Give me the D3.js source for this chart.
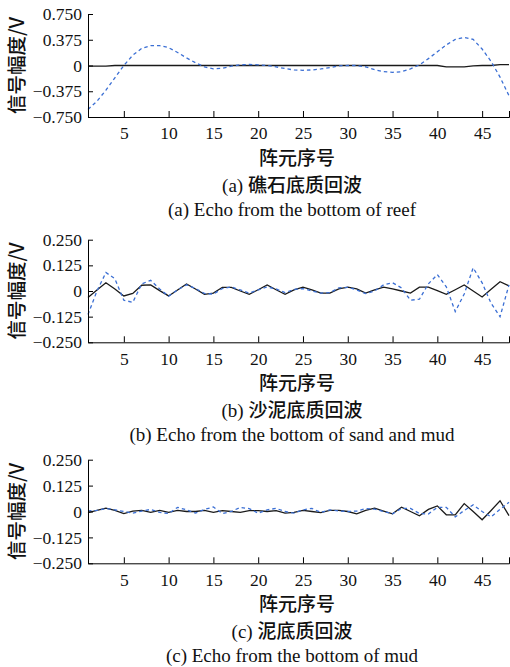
<!DOCTYPE html>
<html><head><meta charset="utf-8">
<script src="https://cdn.jsdelivr.net/npm/d3@7"></script>
<style>body{margin:0;background:#fff}</style>
</head><body>
<script>
// ---------- data ----------
const elements = [1,2,3,4,5,6,7,8,9,10,11,12,13,14,15,16,17,18,19,20,21,22,23,24,25,26,27,28,29,30,31,32,33,34,35,36,37,38,39,40,41,42,43,44,45,46,47,48];

const reefDashed = [-0.64,-0.52,-0.36,-0.18,0.0,0.15,0.25,0.29,0.29,0.26,0.19,0.11,0.04,-0.02,-0.05,-0.04,-0.01,0.01,0.015,0.01,0.0,-0.02,-0.045,-0.065,-0.07,-0.065,-0.05,-0.03,-0.005,0.0,0.0,-0.02,-0.06,-0.09,-0.10,-0.09,-0.05,0.01,0.10,0.20,0.30,0.38,0.41,0.38,0.24,0.06,-0.17,-0.44];
const reefSolid = [-0.008,-0.008,-0.008,0,0,0,0,0,0,0,0,0,0,0,0,0,0,0,0,0,0,0,0,0,0,0,0,0,0,0,0,0,0,0,0,0,0,0,0,0,-0.02,-0.02,-0.02,-0.004,0,0,0.012,0.012];

const sandDashed = [-0.115,0.0,0.09,0.06,-0.045,-0.055,0.035,0.052,0.01,-0.025,0.005,0.03,0.012,-0.012,-0.015,0.012,0.02,0.005,-0.01,0.005,0.02,0.01,-0.008,0.008,0.012,0.0,-0.01,-0.008,0.015,0.018,0.005,-0.013,0.0,0.03,0.04,0.015,-0.045,-0.04,0.035,0.08,0.02,-0.1,-0.015,0.113,0.04,-0.06,-0.125,0.03];
const sandSolid = [-0.032,0.005,0.04,0.01,-0.024,-0.012,0.028,0.03,0.002,-0.024,0.005,0.034,0.01,-0.016,-0.01,0.018,0.018,0.0,-0.016,0.006,0.029,0.006,-0.016,0.005,0.019,0.005,-0.01,-0.01,0.01,0.019,0.01,-0.01,0.005,0.019,0.01,0.0,-0.01,0.019,0.019,0.002,-0.016,0.006,0.029,0.0,-0.029,0.008,0.045,0.025];

const mudDashed = [0.003,0.005,0.015,0.008,0.0,-0.008,0.002,0.01,-0.004,-0.01,0.02,0.008,-0.008,0.01,0.022,-0.01,0.0,0.02,0.014,-0.008,0.008,0.015,0.0,-0.008,0.008,0.015,-0.005,0.008,0.003,0.0,0.002,0.014,0.011,0.0,-0.011,0.015,0.015,-0.01,-0.012,0.02,0.02,-0.026,0.005,0.032,0.0,-0.026,0.01,0.045];
const mudSolid = [-0.005,0.005,0.016,0.005,-0.01,0.002,0.005,-0.004,0.005,-0.004,0.005,0.0,0.0,0.005,-0.004,0.004,0.0,-0.004,0.004,0.004,0.0,0.004,-0.008,-0.004,0.005,0.0,-0.005,0.005,0.005,0.0,-0.011,0.005,0.016,0.002,-0.011,0.021,0.0,-0.021,0.01,0.027,-0.016,-0.016,0.038,0.0,-0.04,0.005,0.052,-0.02];

const xTicks = [5,10,15,20,25,30,35,40,45];
const yTicksReef = [-0.75,-0.375,0,0.375,0.75];
const yTickLabelsReef = ["\u22120.750","\u22120.375","0","0.375","0.750"];
const yTicksSmall = [-0.25,-0.125,0,0.125,0.25];
const yTickLabelsSmall = ["\u22120.250","\u22120.125","0","0.125","0.250"];

const yTitle = "信号幅度/V";
const xTitle = "阵元序号";
const captionLetters = ["(a)","(b)","(c)"];
const captionsZh = ["礁石底质回波","沙泥底质回波","泥底质回波"];
const captionsEn = ["(a) Echo from the bottom of reef","(b) Echo from the bottom of sand and mud","(c) Echo from the bottom of mud"];

// ---------- layout ----------
const W = 510, H = 667;
const left = 88, right = 509;
const panels = [
  {top:14,    bottom:117,   dom:[-0.75,0.75], ticks:yTicksReef,  labels:yTickLabelsReef,  dashed:reefDashed, solid:reefSolid},
  {top:239.7, bottom:342.3, dom:[-0.25,0.25], ticks:yTicksSmall, labels:yTickLabelsSmall, dashed:sandDashed, solid:sandSolid},
  {top:459.7, bottom:563.3, dom:[-0.25,0.25], ticks:yTicksSmall, labels:yTickLabelsSmall, dashed:mudDashed,  solid:mudSolid}
];

const serif = "'Liberation Serif','Times New Roman',serif";
const cjk = "'Noto Sans CJK SC','Noto Sans',sans-serif";

const svg = d3.select("body").append("svg").attr("width",W).attr("height",H)
  .style("background","#fff");

const x = d3.scaleLinear().domain([1,48]).range([left,right]);

panels.forEach((p,i)=>{
  const y = d3.scaleLinear().domain(p.dom).range([p.bottom,p.top]);
  const g = svg.append("g");

  // lines
  const line = d3.line().x((d,j)=>x(elements[j])).y(d=>y(d));
  g.append("path").datum(p.solid).attr("d",line)
    .attr("fill","none").attr("stroke","#1a1a1a").attr("stroke-width",1.3);
  g.append("path").datum(p.dashed).attr("d",line)
    .attr("fill","none").attr("stroke","#3b6fd4").attr("stroke-width",1.3)
    .attr("stroke-dasharray","3.5,3");

  // x axis
  const xa = g.append("g").attr("transform",`translate(0,${p.bottom})`)
    .call(d3.axisBottom(x).tickValues(xTicks).tickSize(-6).tickSizeOuter(-6).tickPadding(10).tickFormat(d3.format("d")));
  // y axis
  const ya = g.append("g").attr("transform",`translate(${left},0)`)
    .call(d3.axisLeft(y).tickValues(p.ticks).tickSize(-5).tickSizeOuter(0).tickPadding(6)
      .tickFormat((d,k)=>p.labels[k]));
  [xa,ya].forEach(a=>{
    a.selectAll("path,line").attr("stroke","#000").attr("stroke-width",1);
    a.selectAll("text").attr("font-family",serif).attr("font-size",17.5).attr("fill","#111");
  });

  // y title
  const cy = (p.top+p.bottom)/2;
  g.append("text").attr("transform",`translate(24,${cy}) rotate(-90)`)
    .attr("text-anchor","middle").attr("font-family",cjk).attr("font-weight",500)
    .attr("font-size",19.5).attr("fill","#111").text(yTitle);

  // x title
  g.append("text").attr("x",297).attr("y",p.bottom+48)
    .attr("text-anchor","middle").attr("font-family",cjk).attr("font-weight",500)
    .attr("font-size",19).attr("fill","#111").text(xTitle);

  // chinese caption
  const t = g.append("text").attr("x",292).attr("y",p.bottom+75)
    .attr("text-anchor","middle").attr("font-size",19).attr("fill","#111");
  t.append("tspan").attr("font-family",serif).text(captionLetters[i]+" ");
  t.append("tspan").attr("font-family",cjk).attr("font-weight",500).text(captionsZh[i]);

  // english caption
  g.append("text").attr("x",292).attr("y",p.bottom+99)
    .attr("text-anchor","middle").attr("font-family",serif).attr("font-size",19)
    .attr("fill","#111").text(captionsEn[i]);
});
</script>
</body></html>
